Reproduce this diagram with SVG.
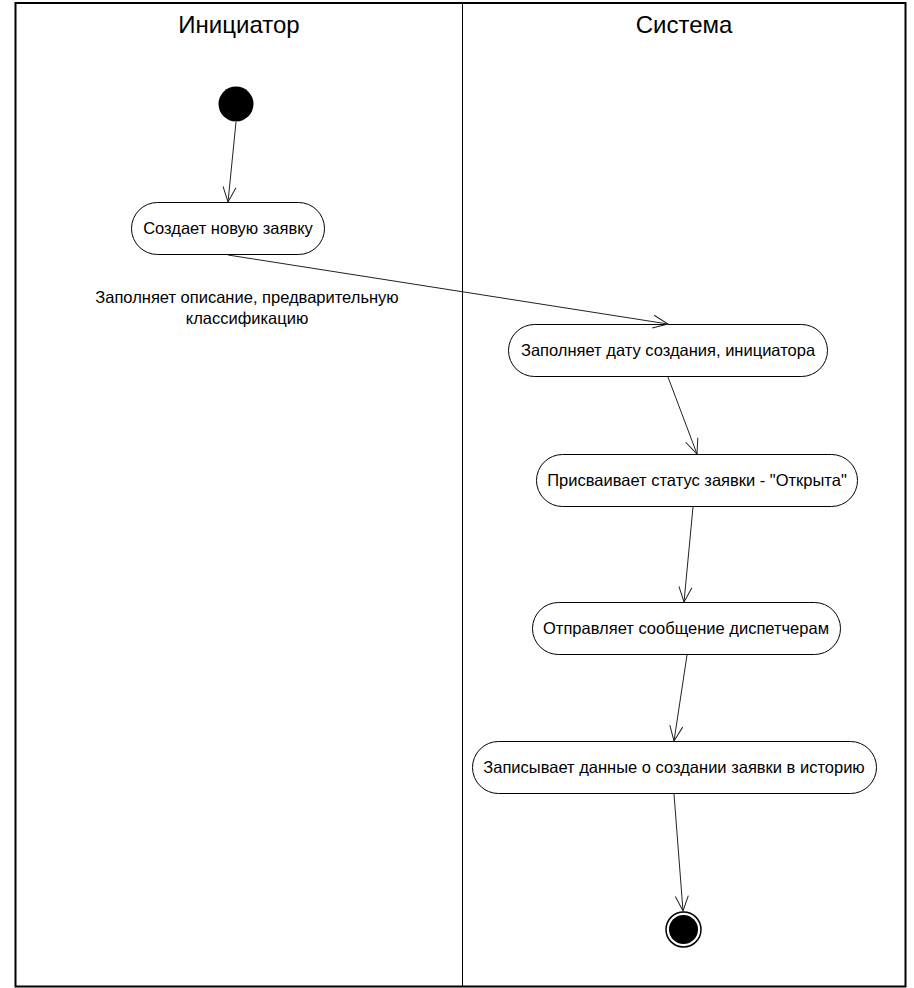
<svg xmlns="http://www.w3.org/2000/svg" width="914" height="988" viewBox="0 0 914 988">
<defs>
<marker id="arr" viewBox="-16 -8 20 16" refX="0" refY="0" markerWidth="20" markerHeight="16" markerUnits="userSpaceOnUse" orient="auto" overflow="visible">
<path d="M -15 -6.5 L 0 0 L -15 6.5" fill="none" stroke="#222" stroke-width="1"/>
</marker>
</defs>
<style>
.node rect { fill: #fff; stroke: #000; stroke-width: 1; }
.node text, .lbl { font-family: "Liberation Sans", Arial, sans-serif; font-size: 16.5px; fill: #000; text-anchor: middle; }
.title { font-family: "Liberation Sans", Arial, sans-serif; font-size: 24px; fill: #000; text-anchor: middle; }
.edge { stroke: #222; stroke-width: 1; fill: none; marker-end: url(#arr); }
</style>
<rect width="914" height="988" fill="#fff"/>
<g id="lanes">
<rect x="15.5" y="3" width="890" height="983.5" fill="none" stroke="#000" stroke-width="2"/>
<line x1="462.5" y1="3" x2="462.5" y2="986.5" stroke="#000" stroke-width="1"/>
<text class="title" x="239" y="33">Инициатор</text>
<text class="title" x="684" y="33">Система</text>
</g>
<g id="start"><circle cx="236" cy="104" r="17.5" fill="#000"/></g>
<g id="n1" class="node"><rect x="131.5" y="202.5" width="193" height="52" rx="26"/><text x="228" y="234">Создает новую заявку</text></g>
<g id="n2" class="node"><rect x="508.5" y="324.5" width="319" height="52" rx="26"/><text x="668" y="356">Заполняет дату создания, инициатора</text></g>
<g id="n3" class="node"><rect x="536.5" y="454.5" width="321" height="52" rx="26"/><text x="697" y="486">Присваивает статус заявки - "Открыта"</text></g>
<g id="n4" class="node"><rect x="532.5" y="602.5" width="308" height="52" rx="26"/><text x="686" y="634">Отправляет сообщение диспетчерам</text></g>
<g id="n5" class="node"><rect x="472.5" y="741.5" width="404" height="52" rx="26"/><text x="674" y="773">Записывает данные о создании заявки в историю</text></g>
<g id="end"><circle cx="683.5" cy="929.5" r="17.5" fill="#fff" stroke="#000" stroke-width="1.5"/><circle cx="683.5" cy="929.5" r="14.5" fill="#000"/></g>
<g id="edges">
<line class="edge" x1="236" y1="122" x2="228" y2="202"/>
<line class="edge" x1="228" y1="255" x2="668" y2="324"/>
<line class="edge" x1="668" y1="377" x2="697" y2="454"/>
<line class="edge" x1="693" y1="507" x2="684" y2="602"/>
<line class="edge" x1="687" y1="655" x2="674" y2="741"/>
<line class="edge" x1="674" y1="794" x2="683" y2="911"/>
</g>
<g id="label">
<text class="lbl" x="247" y="303">Заполняет описание, предварительную</text>
<text class="lbl" x="247" y="324">классификацию</text>
</g>
</svg>
